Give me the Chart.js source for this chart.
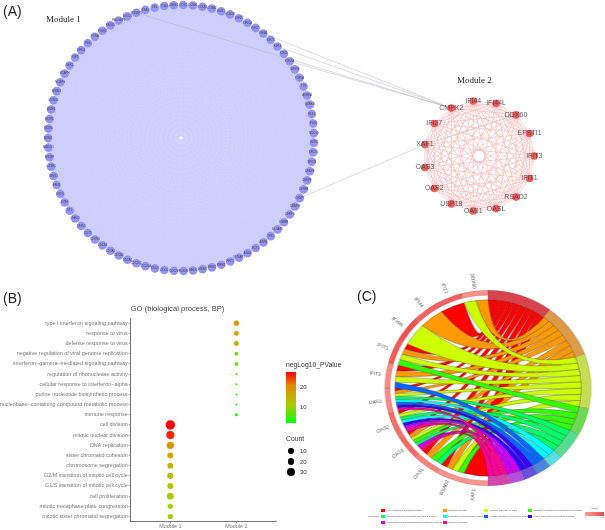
<!DOCTYPE html>
<html lang="en">
<head>
<meta charset="UTF-8">
<title>Module network, GO bubble plot and GO chord</title>
<script src="https://cdn.jsdelivr.net/npm/chart.js"></script>
<style>
    body { margin: 0; background: #fff; font-family: 'Liberation Sans', sans-serif; }
    #page { position: relative; width: 605px; height: 530px; overflow: hidden; }
    #page canvas { position: absolute; left: 0; top: 0; }
    .box { position: absolute; }
    .txt { position: absolute; white-space: nowrap; line-height: 1; }
    .panel { font-size: 14px; color: #222; }
    .module { font-family: 'Liberation Serif', serif; font-size: 9px; color: #222; }
    .lg { font-size: 6.8px; color: #333; }
    .sw { position: absolute; width: 3.6px; height: 3.6px; }
    .go { font-size: 2.4px; color: #444; }
</style>
</head>
<body>
<div id="page">
    <div class="box" style="left:0;top:0;width:605px;height:285px"><canvas id="netChart" width="605" height="285"></canvas></div>
    <div class="box" style="left:0;top:285px;width:340px;height:245px"><canvas id="dotChart" width="340" height="245"></canvas></div>
    <div class="box" id="chordBox" style="left:368px;top:268px;width:240px;height:240px;transform:scaleX(1.055)"><canvas id="chordChart" width="240" height="240"></canvas></div>

    <span class="txt panel" style="left:3px;top:4px">(A)</span>
    <span class="txt panel" style="left:3px;top:291px">(B)</span>
    <span class="txt panel" style="left:357px;top:289px">(C)</span>
    <span class="txt module" style="left:46px;top:15px">Module 1</span>
    <span class="txt module" style="left:457px;top:76px">Module 2</span>

    <span class="txt lg" style="left:286px;top:362px">negLog10_PValue</span>
    <div class="box" id="colorBar" style="left:286px;top:372px;width:10px;height:51px"></div>
    <span class="txt lg" style="left:300px;top:384px;font-size:6px">20</span>
    <span class="txt lg" style="left:300px;top:403.5px;font-size:6px">10</span>
    <span class="txt lg" style="left:286px;top:436px">Count</span>
    <div id="countLegend"></div>
    <div id="goLegend"></div>
</div>

<script>
// module network (names are mostly too small to read, estimated)
const module1Genes = ['CDK1','CCNB1','CCNB2','CCNA2','BUB1','BUB1B','KIF11','KIF20A','KIF2C','KIF4A','KIF23','KIF14','KIF15','KIF18A','KIF18B','TOP2A','TTK','AURKA','AURKB','PLK1','PLK4','NDC80','NUF2','SPC25','SPC24','CENPE','CENPF','CENPA','CENPI','CENPM','CENPU','HMMR','DLGAP5','TPX2','ASPM','ECT2','ANLN','NUSAP1','PRC1','RRM1','RRM2','MKI67','MELK','FOXM1','CDC20','CDC6','CDC7','CDC25A','CDC25C','CDCA2','CDCA3','CDCA5','CDCA8','CDKN3','CDT1','CEP55','CHEK1','DTL','E2F8','EXO1','FEN1','GINS2','GTSE1','HJURP','MAD2L1','MCM2','MCM4','MCM5','MCM6','MCM10','MYBL2','NCAPG','NCAPH','NEK2','OIP5','ORC6','PBK','PCNA','POLE2','RAD51','RACGAP1','SGOL1','SHCBP1','SKA1','TK1','TYMS','UBE2C'];
const module2Genes = ['IFIT3','IFIT1','RSAD2','OASL','OAS1','USP18','OAS2','OAS3','XAF1','IFI27','CMPK2','IFI44','IFI44L','DDX60','EPSTI1'];
const crossLinks = [['KIF4A','CMPK2'],['KIF14','CMPK2'],['KIF18A','CMPK2'],['SHCBP1','CMPK2'],['CENPI','XAF1']];
const module2GreyLinks = [['DDX60','XAF1']];

// GO bubble plot
const bpTerms = ['type I interferon signaling pathway','response to virus','defense response to virus','negative regulation of viral genome replication','interferon\u2212gamma\u2212mediated signaling pathway','regulation of ribonuclease activity','cellular response to interferon\u2212alpha','purine nucleotide biosynthetic process','nucleobase\u2212containing compound metabolic process','immune response','cell division','mitotic nuclear division','DNA replication','sister chromatid cohesion','chromosome segregation','G2/M transition of mitotic cell cycle','G1/S transition of mitotic cell cycle','cell proliferation','mitotic metaphase plate congression','mitotic sister chromatid segregation'];
const bpModule = [2,2,2,2,2,2,2,2,2,2,1,1,1,1,1,1,1,1,1,1];
const bpCounts = [9,8,8,4,4,2,2,2,2,3,36,28,23,15,13,16,14,20,9,9];
const bpLogP = [18,16.5,14.5,8,7,3,3,3,3,2,27,25,18,15,14,13,11,10,9.5,9];
const moduleNames = ['Module 1','Module 2'];
const countBreaks = [10,20,30];

// GO chord
const goTerms = ['type I interferon signaling pathway','response to virus','defense response to virus','negative regulation of viral genome replication','interferon-gamma-mediated signaling pathway','regulation of ribonuclease activity','cellular response to interferon-alpha','purine nucleotide biosynthetic process','nucleobase-containing compound metabolic process','immune response'];
const chordGenes = ['XAF1','RSAD2','OASL','OAS3','OAS2','OAS1','IFIT3','IFIT1','IFI44L','IFI44','IFI27','DDX60'];
const chordLinks = [[0],[3,2,1,0],[4,3,1,0],[9,8,4,3,2,1,0],[9,8,7,5,4,2,0],[9,7,6,5,4,2,1,0],[6,2,1,0],[3,2,1,0],[2],[1],[0],[2,1]];
const geneLogFC = [1.2,1.3,1.7,2.3,2.2,1.5,1.5,2.6,2.9,2.4,2.5,1.3];

// styles
const ribbonColors = ['#ff0000','#ff9900','#ccff00','#33ff00','#00ff66','#00ffff','#0066ff','#3300ff','#cc00ff','#ff0099'];
const termRingColors = ['#d8444e','#dd9b48','#c4dd52','#6ed952','#55dd8e','#58dde0','#4f86dd','#6650dd','#b64edd','#d644ad'];
const pStops = [1,10,14,20,27];
const pColors = ['#00ff00','#a6ce00','#c4b000','#de8c00','#ff0000'];

function hexRgb(h) { return [1,3,5].map(i => parseInt(h.substr(i,2),16)); }
function mix(a, b, t) {
    const p = hexRgb(a), q = hexRgb(b);
    return 'rgb(' + p.map((v,i) => Math.round(v + (q[i]-v)*t)).join(',') + ')';
}
function pColor(v) {
    let i = 0;
    while (i < pStops.length-2 && v > pStops[i+1]) i++;
    return mix(pColors[i], pColors[i+1], Math.min(1,(v-pStops[i])/(pStops[i+1]-pStops[i])));
}
// size scale
function countRadius(c) {
    const cs = [2,4,10,20,30,36], rs = [1,2,2.7,3.4,4.3,4.7];
    let i = 0;
    while (i < cs.length-2 && c > cs[i+1]) i++;
    return rs[i] + (rs[i+1]-rs[i])*(c-cs[i])/(cs[i+1]-cs[i]);
}

// circular layout of a module, angles clockwise from top
function ringLayout(names, cx, cy, radius, startDeg) {
    const out = {};
    names.forEach((n,i) => {
        const a = (startDeg + i*360/names.length) * Math.PI/180;
        out[n] = {x: cx + radius*Math.sin(a), y: cy - radius*Math.cos(a)};
    });
    return out;
}
function allPairs(names, layout) {
    const pts = [];
    for (let i = 0; i < names.length; i++) {
        for (let j = i+1; j < names.length; j++) {
            pts.push(layout[names[i]], layout[names[j]], {x: NaN, y: NaN});
        }
    }
    return pts;
}

const layout1 = ringLayout(module1Genes, 181, 138, 133, 1);
const layout2 = ringLayout(module2Genes, 479, 156, 55.3, 90);
const layoutAll = Object.assign({}, layout1, layout2);
function linkPoints(links) {
    const pts = [];
    links.forEach(l => pts.push(layoutAll[l[0]], layoutAll[l[1]], {x: NaN, y: NaN}));
    return pts;
}

const nodeLabels = {
    id: 'nodeLabels',
    afterDatasetsDraw(chart) {
        const ctx = chart.ctx;
        chart.data.datasets.forEach((ds, d) => {
            if (!ds.nodeNames) return;
            ctx.save();
            ctx.font = ds.labelFont;
            ctx.fillStyle = ds.labelColor;
            ctx.textAlign = 'center';
            ctx.textBaseline = 'middle';
            chart.getDatasetMeta(d).data.forEach((el, i) => ctx.fillText(ds.nodeNames[i], el.x, el.y));
            ctx.restore();
        });
    }
};

new Chart(document.getElementById('netChart'), {
    type: 'scatter',
    plugins: [nodeLabels],
    data: { datasets: [
        { data: module2Genes.map(n => layout2[n]), nodeNames: module2Genes, labelFont: "7px 'Liberation Sans'", labelColor: 'rgba(60,60,60,0.85)', pointRadius: 3.8, backgroundColor: '#f45c5c', borderWidth: 0, clip: false },
        { data: module1Genes.map(n => layout1[n]), nodeNames: module1Genes, labelFont: "2.8px 'Liberation Sans'", labelColor: '#444', pointRadius: 4.3, backgroundColor: '#9494f8', borderWidth: 0, clip: false },
        { data: linkPoints(module2GreyLinks), showLine: true, pointRadius: 0, borderColor: '#cfcfcf', borderWidth: 0.7 },
        { data: linkPoints(crossLinks), showLine: true, pointRadius: 0, borderColor: 'rgba(180,180,188,0.7)', borderWidth: 0.7 },
        { data: allPairs(module2Genes, layout2), showLine: true, pointRadius: 0, borderColor: '#f8b8b8', borderWidth: 0.65 },
        { data: allPairs(module1Genes, layout1), showLine: true, pointRadius: 0, borderColor: '#cfcffc', borderWidth: 0.4 }
    ]},
    options: {
        responsive: false,
        animation: false,
        events: [],
        layout: { padding: 0, autoPadding: false },
        plugins: { legend: { display: false }, tooltip: { enabled: false } },
        scales: {
            x: { display: false, min: 0, max: 605 },
            y: { display: false, min: 0, max: 285, reverse: true }
        }
    }
});

new Chart(document.getElementById('dotChart'), {
    type: 'bubble',
    data: { datasets: [{
        data: bpTerms.map((t,i) => ({ x: bpModule[i], y: t, r: countRadius(bpCounts[i]) })),
        backgroundColor: bpLogP.map(pColor),
        borderWidth: 0
    }]},
    options: {
        responsive: false,
        animation: false,
        events: [],
        layout: { padding: { right: 64 }, autoPadding: false },
        plugins: {
            legend: { display: false },
            tooltip: { enabled: false },
            title: { display: true, fullSize: false, align: 'start', text: 'GO (biological process, BP)', color: '#444',
                font: { family: "'Liberation Sans'", size: 7.6, weight: 'normal' }, padding: { top: 19.5, bottom: 4.5 } }
        },
        scales: {
            x: {
                type: 'linear', min: 0.4, max: 2.6,
                afterBuildTicks: axis => { axis.ticks = moduleNames.map((m,i) => ({ value: i+1 })); },
                afterFit: axis => { axis.height = 8.4; },
                ticks: { callback: v => moduleNames[v-1], color: '#777', font: { family: "'Liberation Sans'", size: 5.4 }, padding: 0, maxRotation: 0 },
                grid: { drawOnChartArea: false, tickLength: 2, color: '#777', lineWidth: 0.6 },
                border: { color: '#666', width: 0.9 }
            },
            y: {
                type: 'category', labels: bpTerms, offset: true,
                afterFit: axis => { axis.width = 130.7; },
                ticks: { autoSkip: false, color: '#777', font: { family: "'Liberation Sans'", size: 5.45 }, padding: 1 },
                grid: { drawOnChartArea: false, tickLength: 2, color: '#777', lineWidth: 0.6, offset: false },
                border: { color: '#666', width: 0.9 }
            }
        }
    }
});

// doughnut ring: terms on the right half, genes with equal sectors on the left
const termCounts = goTerms.map((t,i) => chordLinks.filter(l => l.includes(i)).length);
const totalLinks = termCounts.reduce((a,b) => a+b, 0);
const geneSector = totalLinks / chordGenes.length;
const geneRingThickness = 5;
const ribbonPull = 0.25; // how far the curve's control point leaves the centre

const chordRibbons = {
    id: 'chordRibbons',
    beforeDatasetsDraw(chart) {
        const arcs = chart.getDatasetMeta(0).data;
        for (let g = 0; g < chordGenes.length; g++) {
            const el = arcs[goTerms.length + g];
            el.innerRadius = el.outerRadius - geneRingThickness;
        }
    },
    afterDatasetsDraw(chart) {
        const ctx = chart.ctx, arcs = chart.getDatasetMeta(0).data, nt = goTerms.length;
        const cx = arcs[0].x, cy = arcs[0].y, r = arcs[0].innerRadius, R = arcs[0].outerRadius;
        const pt = a => [cx + r*Math.cos(a), cy + r*Math.sin(a)];
        const curveTo = (from, to) => ctx.quadraticCurveTo(
            cx + ribbonPull*((from[0]+to[0])/2 - cx), cy + ribbonPull*((from[1]+to[1])/2 - cy), to[0], to[1]);
        ctx.save();
        ctx.lineWidth = 0.4;
        ctx.strokeStyle = 'rgba(40,40,40,0.75)';
        const used = goTerms.map(() => 0);
        const termSlot = {};
        // clockwise inside a term the genes run from the last one back to the first
        for (let g = chordGenes.length-1; g >= 0; g--) {
            chordLinks[g].forEach(t => { termSlot[g+'_'+t] = used[t]++; });
        }
        for (let t = 0; t < nt; t++) {
            const tEl = arcs[t], tStep = (tEl.endAngle-tEl.startAngle)/termCounts[t];
            chordGenes.forEach((name, g) => {
                const k = chordLinks[g].indexOf(t);
                if (k < 0) return;
                const gEl = arcs[nt+g], gStep = (gEl.endAngle-gEl.startAngle)/chordLinks[g].length;
                const t1 = tEl.startAngle + tStep*termSlot[g+'_'+t], t2 = t1 + tStep;
                const g1 = gEl.startAngle + gStep*k, g2 = g1 + gStep;
                ctx.beginPath();
                ctx.moveTo(pt(t1)[0], pt(t1)[1]);
                ctx.arc(cx, cy, r, t1, t2);
                curveTo(pt(t2), pt(g1));
                ctx.arc(cx, cy, r, g1, g2);
                curveTo(pt(g2), pt(t1));
                ctx.closePath();
                ctx.fillStyle = ribbonColors[t];
                ctx.fill();
                ctx.stroke();
            });
        }
        // gene names, radial
        ctx.font = "4.8px 'Liberation Sans'";
        ctx.fillStyle = '#555';
        ctx.textBaseline = 'middle';
        ctx.textAlign = 'center';
        chordGenes.forEach((name, g) => {
            const el = arcs[nt+g], a = (el.startAngle+el.endAngle)/2;
            ctx.save();
            ctx.translate(cx + (R+10)*Math.cos(a), cy + (R+10)*Math.sin(a));
            ctx.rotate(a + Math.PI);
            ctx.fillText(name, 0, 0);
            ctx.restore();
        });
        ctx.restore();
    }
};

new Chart(document.getElementById('chordChart'), {
    type: 'doughnut',
    plugins: [chordRibbons],
    data: {
        labels: goTerms.concat(chordGenes),
        datasets: [{
            data: termCounts.concat(chordGenes.map(() => geneSector)),
            backgroundColor: termRingColors.concat(geneLogFC.map(v => mix('#ff9c92', '#f04c4c', (v-1)/2))),
            borderColor: 'rgba(70,70,70,0.45)',
            borderWidth: 0.4
        }]
    },
    options: {
        responsive: false,
        animation: false,
        events: [],
        rotation: 0,
        cutout: '90.2%',
        layout: { padding: 22 },
        plugins: { legend: { display: false }, tooltip: { enabled: false } }
    }
});

// colour bar and size legend of the bubble plot
const gradStops = pStops.map((v,i) => pColors[i] + ' ' + ((v-1)/26*100).toFixed(1) + '%');
document.getElementById('colorBar').style.background = 'linear-gradient(to top,' + gradStops.join(',') + ')';
const countLegend = document.getElementById('countLegend');
countBreaks.forEach((c,i) => {
    const r = countRadius(c), y = 451 + i*10.6;
    countLegend.insertAdjacentHTML('beforeend',
        '<div class="box" style="left:' + (291-r) + 'px;top:' + (y-r) + 'px;width:' + 2*r + 'px;height:' + 2*r + 'px;border-radius:50%;background:#000"></div>' +
        '<span class="txt lg" style="left:300px;top:' + (y-3) + 'px;font-size:6px">' + c + '</span>');
});

// GO term legend under the chord
const goLegend = document.getElementById('goLegend');
const legendColumns = [381.3, 443, 484.3, 528.3], legendRows = [508.9, 514.9, 520.9];
let legendHtml = '<span class="txt go" style="left:368px;top:515.5px">GO Terms</span>';
goTerms.forEach((t,i) => {
    const x = legendColumns[i%4], y = legendRows[Math.floor(i/4)];
    legendHtml += '<div class="sw" style="left:' + x + 'px;top:' + y + 'px;background:' + ribbonColors[i] + '"></div>' +
        '<span class="txt go" style="left:' + (x+5.3) + 'px;top:' + (y+0.6) + 'px">' + t + '</span>';
});
legendHtml += '<span class="txt go" style="left:591.5px;top:508px">logFC</span>' +
    '<div class="box" style="left:585.3px;top:512px;width:18.4px;height:3.6px;background:linear-gradient(to right,#ff9c92,#f04c4c)"></div>' +
    '<span class="txt go" style="left:585px;top:517px">1</span><span class="txt go" style="left:602.5px;top:517px">3</span>';
goLegend.innerHTML = legendHtml;
</script>
</body>
</html>
